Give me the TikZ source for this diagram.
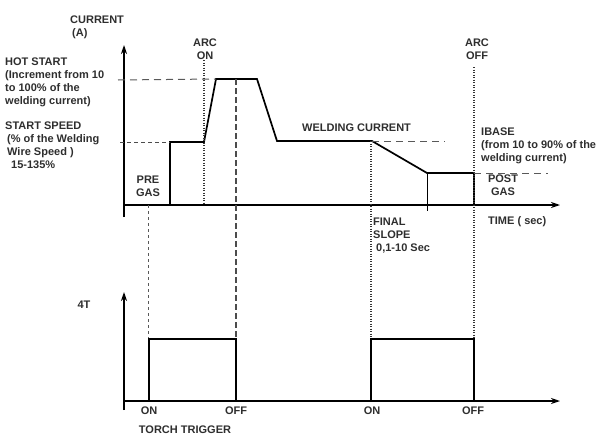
\documentclass[tikz,border=0pt]{standalone}
\usepackage{fontspec}
\setmainfont{Liberation Sans}
\usetikzlibrary{arrows.meta}
\begin{document}
\begin{tikzpicture}[x=1pt,y=-1pt,
  lbl/.style={font=\bfseries\fontsize{11}{12.8}\selectfont, inner sep=0pt, text=black!82},
  axis/.style={line width=1.4pt, -{Stealth[length=9pt,width=6pt]}},
  sig/.style={line width=1.7pt, line join=miter},
  thinsig/.style={line width=0.8pt},
  dshlong/.style={line width=1pt, black!65, dash pattern=on 7pt off 5pt},
  dshshort/.style={line width=1pt, black!70, dash pattern=on 4pt off 3pt},
  dshvert/.style={line width=1.3pt, black!70, dash pattern=on 6pt off 3pt},
  dshfine/.style={line width=0.8pt, black!65, dash pattern=on 3pt off 3pt},
  dotl/.style={line width=1.1pt, black!80, dash pattern=on 1pt off 1.5pt},
]
\useasboundingbox (0,0) rectangle (601,436);

% ---------- upper chart ----------
\coordinate (O1) at (124,205);
\coordinate (Yb1) at (124,217);
\coordinate (Yt1) at (124,45);
\coordinate (Xe1) at (560,205);
\draw[axis] (Yb1) -- (Yt1);
\draw[axis] (O1) -- (Xe1);

\coordinate (s0) at (170,205);
\coordinate (s1) at (170,142);
\coordinate (s2) at (204,142);
\coordinate (s3) at (216,79);
\coordinate (s4) at (257,79);
\coordinate (s5) at (277,141);
\coordinate (s6) at (372,141);
\coordinate (s7) at (427,173);
\coordinate (s8) at (474,173);
\coordinate (s9) at (474,205);
\draw[sig] (s0) -- (s1) -- (s2) -- (s3) -- (s4) -- (s5) -- (s6) -- (s7) -- (s8) -- (s9);
\coordinate (t7) at (427,211);
\draw[thinsig] (s7) -- (t7);

% reference dashed levels
\coordinate (hs) at (118,80);
\draw[dshlong] (hs) -- (s3);
\coordinate (ss) at (120,142);
\draw[dshshort] (ss) -- (s1);
\coordinate (wc) at (445,141);
\draw[dshlong] (s6) -- (wc);
\coordinate (ib) at (548,173);
\draw[dshlong] (s8) -- (ib);

% vertical guide lines
\coordinate (pg0) at (148,205);
\coordinate (pg1) at (148,339);
\draw[dshfine] (pg0) -- (pg1);
\coordinate (hv0) at (236,79);
\coordinate (hv1) at (236,339);
\draw[dshvert] (hv0) -- (hv1);
\coordinate (ao0) at (204,60);
\coordinate (ao1) at (204,205);
\draw[dotl] (ao0) -- (ao1);
\coordinate (fs0) at (371,141);
\coordinate (fs1) at (371,339);
\draw[dotl] (fs0) -- (fs1);
\coordinate (af0) at (474,67);
\coordinate (af1) at (474,339);
\draw[dotl] (af0) -- (af1);

% ---------- lower chart ----------
\coordinate (O2) at (124,401);
\coordinate (Yb2) at (124,410);
\coordinate (Yt2) at (124,292);
\coordinate (Xe2) at (560,401);
\draw[axis] (Yb2) -- (Yt2);
\draw[axis] (O2) -- (Xe2);
\coordinate (p1a) at (149,401);
\coordinate (p1d) at (236,401);
\draw[sig] (p1a) -- (pg1 -| p1a) -- (hv1) -- (p1d);
\coordinate (p2a) at (371,401);
\coordinate (p2d) at (474,401);
\draw[sig] (p2a) -- (fs1) -- (af1) -- (p2d);

% ---------- labels ----------
\node[lbl, anchor=north west, align=left] (current) at (70,16) {CURRENT\\\hspace{2pt}(A)};
\node[lbl, anchor=north, align=center] (arcon) at (205,39) {ARC\\ON};
\node[lbl, anchor=north west, align=left] (hot) at (5,57.8) {HOT START\\(Increment from 10\\to 100\% of the\\welding current)};
\node[lbl, anchor=north west, align=left] (speed) at (5,122) {START SPEED\\\hspace{2pt}(\% of the Welding\\\hspace{2pt}Wire Speed )\\\hspace{6pt}15-135\%};
\node[lbl, anchor=north, align=center] (pregas) at (148,176) {PRE\\GAS};
\node[lbl, anchor=north west] (weld) at (302,124) {WELDING CURRENT};
\node[lbl, anchor=north, align=center] (arcoff) at (477,39) {ARC\\OFF};
\node[lbl, anchor=north west, align=left] (ibase) at (481,128) {IBASE\\(from 10 to 90\% of the\\welding current)};
\node[lbl, anchor=north, align=center] (postgas) at (503,175) {POST\\GAS};
\node[lbl, anchor=north west] (time) at (488,216) {TIME ( sec)};
\node[lbl, anchor=north west, align=left] (final) at (373,218) {FINAL\\SLOPE\\\hspace{3pt}0,1-10 Sec};
\node[lbl, anchor=north] (fourT) at (84,301) {4T};
\node[lbl, anchor=north] (on1) at (149,407) {ON};
\node[lbl, anchor=north] (off1) at (236,407) {OFF};
\node[lbl, anchor=north] (on2) at (372,407) {ON};
\node[lbl, anchor=north] (off2) at (473,407) {OFF};
\node[lbl, anchor=north] (torch) at (185,425.5) {TORCH TRIGGER};
\end{tikzpicture}
\end{document}
